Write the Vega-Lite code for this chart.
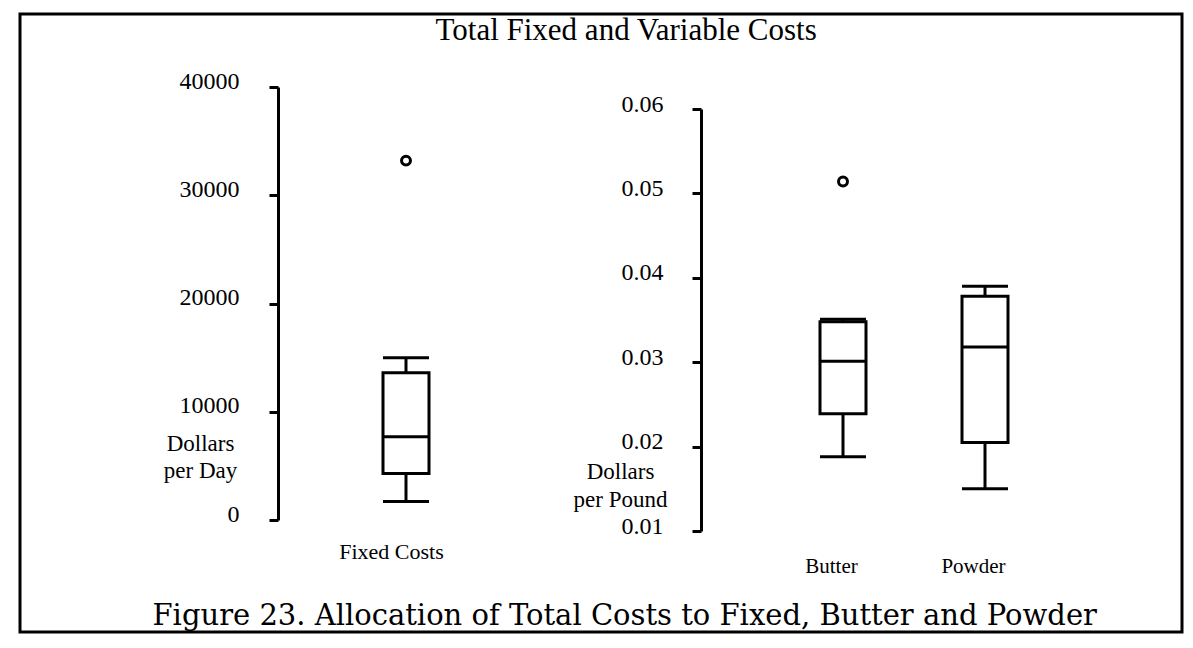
{
  "$schema": "https://vega.github.io/schema/vega-lite/v6.json",
  "width": 1162,
  "height": 618,
  "autosize": {"type": "none"},
  "padding": {"left": 20, "top": 14, "right": 11, "bottom": 16},
  "background": "white",
  "config": {
    "view": {"stroke": "black", "strokeWidth": 3},
    "font": "Liberation Serif",
    "axis": {
      "labelFont": "Liberation Serif",
      "titleFont": "Liberation Serif",
      "labelColor": "black",
      "titleColor": "black",
      "domainColor": "black",
      "tickColor": "black",
      "grid": false,
      "labelFontWeight": "normal",
      "titleFontWeight": "normal"
    }
  },
  "layer": [
    {
      "data": {"values": [
        {"cat": "Fixed Costs", "lower": 1700, "q1": 4300, "median": 7700, "q3": 13600, "upper": 15000, "outlier": 33200}
      ]},
      "encoding": {
        "x": {
          "field": "cat", "type": "nominal",
          "scale": {"type": "point", "range": [0, 772], "padding": 0.5},
          "axis": {
            "orient": "bottom", "offset": -74, "domain": false, "ticks": false,
            "labelPadding": 0, "labelBaseline": "alphabetic", "labelFontSize": 22,
            "labelAngle": 0, "labelOffset": -15,
            "title": "Figure 23.  Allocation of Total Costs to Fixed, Butter and Powder",
            "titleFont": "DejaVu Serif", "titleFontSize": 29,
            "titleX": 132, "titleY": 66, "titleAlign": "left",
            "titleBaseline": "alphabetic", "titleAnchor": "start"
          }
        }
      },
      "layer": [
        {
          "mark": {"type": "rule", "strokeWidth": 3, "color": "black"},
          "encoding": {
            "y": {
              "field": "lower", "type": "quantitative",
              "scale": {"domain": [0, 40000], "range": [506, 73], "nice": false, "zero": false},
              "axis": {
                "orient": "left", "offset": -258,
                "values": [0, 10000, 20000, 30000, 40000], "format": "d",
                "domainWidth": 3, "tickWidth": 3, "tickSize": 9,
                "labelPadding": 30, "labelFontSize": 24, "labelOffset": -6,
                "title": ["Dollars", "per Day"],
                "titleAngle": 0, "titleAlign": "center", "titleBaseline": "alphabetic",
                "titleX": -78, "titleY": 436, "titleFontSize": 23, "titleLineHeight": 27
              }
            },
            "y2": {"field": "q1"}
          }
        },
        {
          "mark": {"type": "rule", "strokeWidth": 3, "color": "black"},
          "encoding": {"y": {"field": "q3", "type": "quantitative"}, "y2": {"field": "upper"}}
        },
        {
          "mark": {"type": "bar", "size": 46, "fill": "white", "stroke": "black", "strokeWidth": 3, "opacity": 1},
          "encoding": {"y": {"field": "q1", "type": "quantitative"}, "y2": {"field": "q3"}}
        },
        {
          "mark": {"type": "tick", "size": 46, "thickness": 3, "color": "black", "opacity": 1},
          "encoding": {"y": {"field": "median", "type": "quantitative"}}
        },
        {
          "mark": {"type": "tick", "size": 46, "thickness": 3, "color": "black", "opacity": 1},
          "encoding": {"y": {"field": "lower", "type": "quantitative"}}
        },
        {
          "mark": {"type": "tick", "size": 46, "thickness": 3, "color": "black", "opacity": 1},
          "encoding": {"y": {"field": "upper", "type": "quantitative"}}
        },
        {
          "mark": {"type": "point", "shape": "circle", "filled": false, "size": 80, "strokeWidth": 3, "color": "black", "opacity": 1},
          "encoding": {"y": {"field": "outlier", "type": "quantitative"}}
        }
      ]
    },
    {
      "data": {"values": [
        {"cat": "Butter", "lower": 0.0188, "q1": 0.0239, "median": 0.0301, "q3": 0.0348, "upper": 0.0351, "outlier": 0.0514},
        {"cat": "Powder", "lower": 0.0150, "q1": 0.0205, "median": 0.0318, "q3": 0.0378, "upper": 0.0390}
      ]},
      "encoding": {
        "x": {
          "field": "cat", "type": "nominal",
          "scale": {"type": "point", "domain": ["Butter", "Powder"], "range": [823, 965], "padding": 0},
          "axis": {
            "orient": "bottom", "offset": -60, "domain": false, "ticks": false,
            "labelPadding": 0, "labelBaseline": "alphabetic", "labelFontSize": 21,
            "labelAngle": 0, "labelOffset": -12,
            "title": "Total Fixed and Variable Costs",
            "titleFont": "Liberation Serif", "titleFontSize": 31,
            "titleX": 415, "titleY": -533, "titleAlign": "left",
            "titleBaseline": "alphabetic", "titleAnchor": "start"
          }
        }
      },
      "layer": [
        {
          "mark": {"type": "rule", "strokeWidth": 3, "color": "black"},
          "encoding": {
            "y": {
              "field": "lower", "type": "quantitative",
              "scale": {"domain": [0.01, 0.06], "range": [517, 95], "nice": false, "zero": false},
              "axis": {
                "orient": "left", "offset": -681,
                "values": [0.01, 0.02, 0.03, 0.04, 0.05, 0.06], "format": ".2f",
                "domainWidth": 3, "tickWidth": 3, "tickSize": 9,
                "labelPadding": 29, "labelFontSize": 24, "labelOffset": -5,
                "title": ["Dollars", "per Pound"],
                "titleAngle": 0, "titleAlign": "center", "titleBaseline": "alphabetic",
                "titleX": -81, "titleY": 464, "titleFontSize": 23, "titleLineHeight": 28
              }
            },
            "y2": {"field": "q1"}
          }
        },
        {
          "mark": {"type": "rule", "strokeWidth": 3, "color": "black"},
          "encoding": {"y": {"field": "q3", "type": "quantitative"}, "y2": {"field": "upper"}}
        },
        {
          "mark": {"type": "bar", "size": 46, "fill": "white", "stroke": "black", "strokeWidth": 3, "opacity": 1},
          "encoding": {"y": {"field": "q1", "type": "quantitative"}, "y2": {"field": "q3"}}
        },
        {
          "mark": {"type": "tick", "size": 46, "thickness": 3, "color": "black", "opacity": 1},
          "encoding": {"y": {"field": "median", "type": "quantitative"}}
        },
        {
          "mark": {"type": "tick", "size": 46, "thickness": 3, "color": "black", "opacity": 1},
          "encoding": {"y": {"field": "lower", "type": "quantitative"}}
        },
        {
          "mark": {"type": "tick", "size": 46, "thickness": 3, "color": "black", "opacity": 1},
          "encoding": {"y": {"field": "upper", "type": "quantitative"}}
        },
        {
          "mark": {"type": "point", "shape": "circle", "filled": false, "size": 80, "strokeWidth": 3, "color": "black", "opacity": 1},
          "encoding": {"y": {"field": "outlier", "type": "quantitative"}}
        }
      ]
    }
  ],
  "resolve": {
    "scale": {"x": "independent", "y": "independent"},
    "axis": {"x": "independent", "y": "independent"}
  }
}
